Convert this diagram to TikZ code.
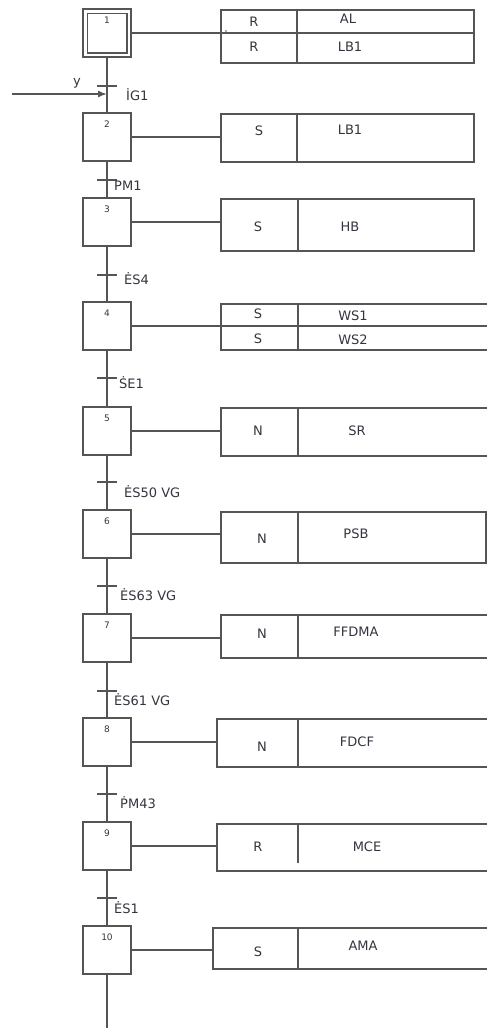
\documentclass[tikz,border=0pt]{standalone}
\usepackage{fontspec}
\setmainfont{DejaVu Sans}
\usetikzlibrary{positioning,arrows.meta}

\begin{document}
\begin{tikzpicture}[x=1pt,y=-1pt]

  % --- Farben ---
  \definecolor{linecol}{HTML}{555555} % Linien
  \definecolor{txtcol}{HTML}{34343F}  % Schrift

  \tikzset{
    stepbox/.style={draw=linecol, line width=1.5pt, minimum size=48pt, inner sep=0pt},
    numlbl/.style={font=\fontsize{9}{10}\selectfont, text=txtcol, inner sep=0pt},
    actbox/.style={draw=linecol, line width=1.5pt, anchor=north west, inner sep=0pt},
    link/.style={draw=linecol, line width=1.5pt},
    acttxt/.style={font=\fontsize{13}{14}\selectfont, text=txtcol, inner sep=0pt},
    translbl/.style={font=\fontsize{13}{14}\selectfont, text=txtcol, anchor=west, inner sep=0pt},
  }

  \useasboundingbox (0,0) rectangle (487,1028);

  % --- Hilfsmakro: \schritt{Nummer}{y-Mitte} ---
  \newcommand{\schritt}[2]{%
    \node[stepbox] (s#1) at (107,#2) {};
    \node[numlbl, below=8pt of s#1.north] (n#1) {#1};
  }

  % --- Hilfsmakro: \uebergang{Name}{y}{Label-x}{Label-y}{Text} ---
  \newcommand{\uebergang}[5]{%
    \coordinate (#1) at (107,#2);
    \draw[link] ([xshift=-10pt]#1) -- ([xshift=10pt]#1);
    \node[translbl] (#1l) at (#3,#4) {#5};
  }

  % --- Schritte ---
  \schritt{1}{33}
  \draw[link] ([shift={(5pt,-5pt)}]s1.north west) rectangle ([shift={(-5pt,5pt)}]s1.south east);
  \schritt{2}{137}
  \schritt{3}{222}
  \schritt{4}{326}
  \schritt{5}{431}
  \schritt{6}{534}
  \schritt{7}{638}
  \schritt{8}{742}
  \schritt{9}{846}
  \schritt{10}{950}

  % --- Wirkungslinie ---
  \draw[link] (s1) -- (s2);
  \draw[link] (s2) -- (s3);
  \draw[link] (s3) -- (s4);
  \draw[link] (s4) -- (s5);
  \draw[link] (s5) -- (s6);
  \draw[link] (s6) -- (s7);
  \draw[link] (s7) -- (s8);
  \draw[link] (s8) -- (s9);
  \draw[link] (s9) -- (s10);
  \coordinate (ende) at (107,1028);
  \draw[link] (s10) -- (ende);

  % --- Eingang y ---
  \coordinate (yin) at (12,94);
  \draw[link, -{Latex[length=9pt,width=7pt]}] (yin) -- (yin -| s1.south);
  \node[acttxt] (ylbl) at (77,83) {y};

  % --- Transitionen ---
  \uebergang{t1}{86}{126}{95}{\.{I}G1}
  \uebergang{t2}{180}{114}{186}{PM1}
  \uebergang{t3}{275}{124}{279}{\.{E}S4}
  \uebergang{t4}{378}{119}{383}{\.{S}E1}
  \uebergang{t5}{482}{124}{492}{\.{E}S50 VG}
  \uebergang{t6}{586}{120}{595}{\.{E}S63 VG}
  \uebergang{t7}{691}{114}{700}{\.{E}S61 VG}
  \uebergang{t8}{794}{120}{803}{\.{P}M43}
  \uebergang{t9}{898}{114}{908}{\.{E}S1}

  % --- Aktionen ---
  % Schritt 1
  \node[actbox, minimum width=253pt, minimum height=53pt] (a1) at (220,9) {};
  \draw[link] (s1.east) -- (s1.east -| a1.east);
  \draw[link] (297,9) -- (297,62);
  \fill[linecol] (226,31) circle (0.9pt);
  \node[acttxt] (a1q1) at (254,22) {R};
  \node[acttxt] (a1t1) at (348,19) {AL};
  \node[acttxt] (a1q2) at (254,47) {R};
  \node[acttxt] (a1t2) at (350,47) {LB1};

  % Schritt 2
  \node[actbox, minimum width=253pt, minimum height=48pt] (a2) at (220,113) {};
  \draw[link] (s2.east) -- (s2.east -| a2.west);
  \draw[link] (297,113) -- (297,161);
  \node[acttxt] (a2q) at (259,131) {S};
  \node[acttxt] (a2t) at (350,130) {LB1};

  % Schritt 3
  \node[actbox, minimum width=253pt, minimum height=52pt] (a3) at (220,198) {};
  \draw[link] (s3.east) -- (s3.east -| a3.west);
  \draw[link] (298,198) -- (298,250);
  \node[acttxt] (a3q) at (258,227) {S};
  \node[acttxt] (a3t) at (350,227) {HB};

  % Schritt 4
  \node[actbox, minimum width=290pt, minimum height=46pt] (a4) at (220,303) {};
  \draw[link] (s4.east) -- (s4.east -| a4.east);
  \draw[link] (298,303) -- (298,349);
  \node[acttxt] (a4q1) at (258,314) {S};
  \node[acttxt] (a4t1) at (353,316) {WS1};
  \node[acttxt] (a4q2) at (258,339) {S};
  \node[acttxt] (a4t2) at (353,340) {WS2};

  % Schritt 5
  \node[actbox, minimum width=290pt, minimum height=48pt] (a5) at (220,407) {};
  \draw[link] (s5.east) -- (s5.east -| a5.west);
  \draw[link] (298,407) -- (298,455);
  \node[acttxt] (a5q) at (258,431) {N};
  \node[acttxt] (a5t) at (357,431) {SR};

  % Schritt 6
  \node[actbox, minimum width=265pt, minimum height=51pt] (a6) at (220,511) {};
  \draw[link] (s6.east) -- (s6.east -| a6.west);
  \draw[link] (298,511) -- (298,562);
  \node[acttxt] (a6q) at (262,539) {N};
  \node[acttxt] (a6t) at (356,534) {PSB};

  % Schritt 7
  \node[actbox, minimum width=290pt, minimum height=43pt] (a7) at (220,614) {};
  \draw[link] (s7.east) -- (s7.east -| a7.west);
  \draw[link] (298,614) -- (298,657);
  \node[acttxt] (a7q) at (262,634) {N};
  \node[acttxt] (a7t) at (356,632) {FFDMA};

  % Schritt 8
  \node[actbox, minimum width=290pt, minimum height=48pt] (a8) at (216,718) {};
  \draw[link] (s8.east) -- (s8.east -| a8.west);
  \draw[link] (298,718) -- (298,766);
  \node[acttxt] (a8q) at (262,747) {N};
  \node[acttxt] (a8t) at (357,742) {FDCF};

  % Schritt 9
  \node[actbox, minimum width=290pt, minimum height=47pt] (a9) at (216,823) {};
  \draw[link] (s9.east) -- (s9.east -| a9.west);
  \draw[link] (298,823) -- (298,863);
  \node[acttxt] (a9q) at (258,847) {R};
  \node[acttxt] (a9t) at (367,847) {MCE};

  % Schritt 10
  \node[actbox, minimum width=290pt, minimum height=41pt] (a10) at (212,927) {};
  \draw[link] (s10.east) -- (s10.east -| a10.west);
  \draw[link] (298,927) -- (298,968);
  \node[acttxt] (a10q) at (258,952) {S};
  \node[acttxt] (a10t) at (363,946) {AMA};

\end{tikzpicture}
\end{document}
